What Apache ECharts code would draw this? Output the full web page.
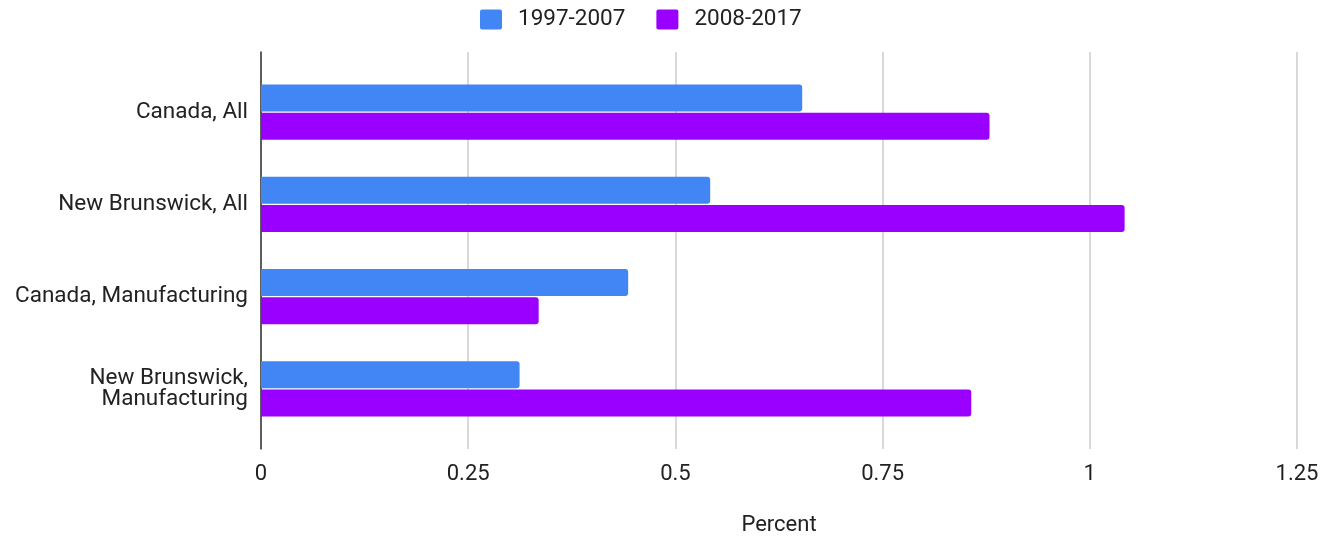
<!DOCTYPE html>
<html>
<head>
<meta charset="utf-8">
<script src="https://cdn.jsdelivr.net/npm/echarts@6/dist/echarts.min.js"></script>
<style>
  html, body { margin: 0; padding: 0; background: #ffffff; }
  #chart { width: 1325px; height: 536px; }
</style>
</head>
<body>
<div id="chart"></div>
<script>
// Regions compared
const categories = ['Canada, All', 'New Brunswick, All', 'Canada, Manufacturing', 'New Brunswick, Manufacturing'];
// Average annual growth, percent
const period1Name = '1997-2007';
const period1 = [0.653, 0.542, 0.443, 0.312];
const period2Name = '2008-2017';
const period2 = [0.879, 1.042, 0.335, 0.857];
const xTicks = [0, 0.25, 0.5, 0.75, 1, 1.25];

const FONT = 'Roboto';
const TEXT = '#222222';
// small square with softly rounded corners for the legend swatches
const SWATCH = 'path://M2,0H20A2,2,0,0,1,22,2V18A2,2,0,0,1,20,20H2A2,2,0,0,1,0,18V2A2,2,0,0,1,2,0Z';
const chart = echarts.init(document.getElementById('chart'), null, { renderer: 'canvas' });

const xMin = xTicks[0];
const xMax = xTicks[xTicks.length - 1];
const xStep = xTicks[1] - xTicks[0];

chart.setOption({
  animation: false,
  backgroundColor: '#ffffff',
  legend: {
    top: 8,
    left: 480,
    padding: 0,
    itemWidth: 22,
    itemHeight: 20,
    itemGap: 31,
    icon: SWATCH,
    textStyle: { fontFamily: FONT, fontSize: 22.5, color: TEXT, padding: [2, 0, 0, 11] },
    data: [period1Name, period2Name]
  },
  grid: [
    // bars
    { left: 261, right: 28, top: 66, bottom: 101, outerBoundsMode: 'none' },
    // frame: gridlines, axis line, tick labels
    { left: 261, right: 28, top: 52, bottom: 87, outerBoundsMode: 'none' }
  ],
  xAxis: [
    {
      gridIndex: 0, type: 'value', min: xMin, max: xMax, interval: xStep,
      show: false
    },
    {
      gridIndex: 1, type: 'value', min: xMin, max: xMax, interval: xStep,
      name: 'Percent', nameLocation: 'middle', nameGap: 65,
      nameTextStyle: { fontFamily: FONT, fontSize: 22, color: TEXT },
      axisLine: { show: false },
      axisTick: { show: false },
      axisLabel: { fontFamily: FONT, fontSize: 22, color: TEXT, margin: 14,
                   formatter: v => String(v) },
      splitLine: { show: true, lineStyle: { color: '#cccccc', width: 1.5 } }
    }
  ],
  yAxis: [
    {
      gridIndex: 0, type: 'category', data: categories, inverse: true,
      axisLine: { show: false },
      axisTick: { show: false },
      axisLabel: {
        fontFamily: FONT, fontSize: 22.5, color: TEXT, margin: 13, align: 'right',
        lineHeight: 21, padding: [3, 0, 0, 0],
        formatter: s => s.length > 24 ? s.replace(', ', ',\n') : s
      }
    },
    {
      gridIndex: 1, type: 'value', min: 0, max: 1,
      axisLine: { show: true, onZero: false, lineStyle: { color: '#333333', width: 1.5 } },
      axisTick: { show: false },
      axisLabel: { show: false },
      splitLine: { show: false }
    }
  ],
  series: [
    {
      name: period1Name, type: 'bar', xAxisIndex: 0, yAxisIndex: 0,
      data: period1, barWidth: 27, barGap: '4%',
      itemStyle: { color: '#4285F4', borderRadius: [0, 3, 3, 0] }
    },
    {
      name: period2Name, type: 'bar', xAxisIndex: 0, yAxisIndex: 0,
      data: period2, barWidth: 27, barGap: '4%',
      itemStyle: { color: '#9900FF', borderRadius: [0, 3, 3, 0] }
    }
  ]
});
</script>
</body>
</html>
